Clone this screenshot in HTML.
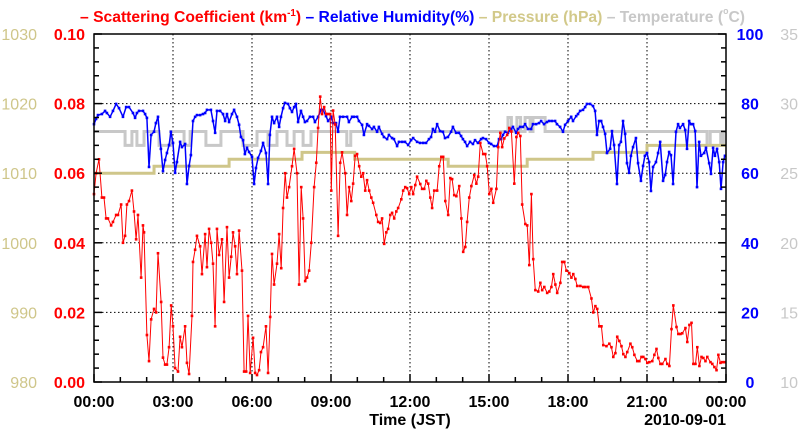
<!DOCTYPE html>
<html><head><meta charset="utf-8"><style>
html,body{margin:0;padding:0;background:#fff;}
svg{display:block;font-family:"Liberation Sans",Arial,sans-serif;}
</style></head><body>
<svg id="chart" width="800" height="434" viewBox="0 0 800 434" xmlns="http://www.w3.org/2000/svg">
<text x="80" y="22" font-size="16" font-weight="bold" textLength="665" lengthAdjust="spacingAndGlyphs"><tspan fill="#ff0000">– Scattering Coefficient (km</tspan><tspan fill="#ff0000" font-size="10" dy="-6">-1</tspan><tspan fill="#ff0000" dy="6">)</tspan><tspan fill="#0000ff"> – Relative Humidity(%)</tspan><tspan fill="#d2c98a"> – Pressure (hPa)</tspan><tspan fill="#c8c8c8"> – Temperature (</tspan><tspan fill="#c8c8c8" font-size="9" dy="-8">o</tspan><tspan fill="#c8c8c8" dy="8">C)</tspan></text>
<g id="grid"></g><g id="series"></g><g id="axes"></g>
</svg>
<script>
// Scattering coefficient (km^-1): time in hours, values
const scatT=[0,0.08,0.19,0.30,0.38,0.46,0.53,0.65,0.72,0.84,0.91,1.03,1.10,1.18,1.25,1.33,1.44,1.52,1.60,1.67,1.79,1.86,1.90,2.01,2.09,2.17,2.28,2.36,2.43,2.55,2.62,2.70,2.77,2.85,2.93,3.00,3.08,3.19,3.27,3.34,3.46,3.53,3.61,3.72,3.76,3.84,3.91,4.03,4.10,4.22,4.29,4.37,4.45,4.52,4.60,4.67,4.75,4.86,4.94,5.05,5.13,5.21,5.28,5.36,5.43,5.51,5.62,5.70,5.78,5.85,5.93,6.04,6.12,6.19,6.27,6.34,6.42,6.53,6.61,6.69,6.76,6.84,6.95,7.03,7.11,7.18,7.26,7.33,7.41,7.52,7.60,7.71,7.79,7.87,7.94,8.02,8.09,8.17,8.25,8.36,8.44,8.51,8.59,8.66,8.74,8.82,8.89,8.97,9.01,9.08,9.16,9.27,9.35,9.42,9.54,9.61,9.69,9.77,9.84,9.92,9.99,10.07,10.15,10.22,10.30,10.37,10.45,10.53,10.60,10.72,10.79,10.87,10.94,11.02,11.10,11.17,11.25,11.32,11.40,11.48,11.55,11.67,11.74,11.82,11.89,11.97,12.05,12.12,12.20,12.27,12.39,12.46,12.54,12.62,12.69,12.77,12.84,12.92,13.03,13.11,13.19,13.26,13.34,13.45,13.53,13.60,13.68,13.76,13.87,13.95,14.02,14.10,14.17,14.25,14.33,14.44,14.52,14.59,14.67,14.78,14.86,14.93,15.01,15.09,15.16,15.28,15.35,15.43,15.50,15.58,15.69,15.77,15.85,15.96,16.04,16.11,16.19,16.26,16.38,16.45,16.53,16.61,16.68,16.76,16.87,16.95,17.02,17.10,17.21,17.29,17.37,17.44,17.52,17.59,17.71,17.78,17.86,17.94,18.05,18.13,18.20,18.28,18.35,18.47,18.58,18.66,18.77,18.89,18.96,19.04,19.11,19.19,19.27,19.34,19.46,19.57,19.65,19.72,19.80,19.87,19.95,20.03,20.10,20.18,20.25,20.37,20.44,20.52,20.63,20.71,20.79,20.86,20.94,21.01,21.09,21.20,21.28,21.36,21.43,21.51,21.58,21.70,21.77,21.85,21.93,22.00,22.12,22.19,22.27,22.34,22.46,22.53,22.61,22.69,22.76,22.84,22.91,22.99,23.07,23.14,23.22,23.29,23.41,23.48,23.56,23.64,23.71,23.79,23.86,23.94];
const scatV=[.054,.060,.064,.053,.053,.047,.047,.045,.046,.048,.048,.051,.040,.042,.051,.052,.055,.049,.041,.048,.030,.045,.043,.0135,.006,.018,.021,.020,.037,.023,.007,.005,.005,.010,.022,.016,.004,.003,.013,.010,.016,.0055,.0023,.019,.0345,.038,.042,.039,.031,.0425,.033,.044,.040,.034,.016,.044,.0365,.041,.023,.0445,.030,.036,.043,.039,.031,.0435,.032,.003,.003,.019,.0026,.0127,.0026,.002,.0034,.0086,.010,.016,.0026,.0187,.0368,.028,.034,.0425,.0327,.050,.060,.053,.056,.062,.067,.060,.028,.056,.047,.029,.030,.032,.040,.056,.063,.073,.082,.077,.079,.077,.077,.077,.055,.078,.074,.042,.063,.066,.060,.048,.056,.052,.057,.065,.0655,.062,.059,.060,.055,.058,.055,.053,.0515,.048,.046,.0457,.047,.0397,.043,.044,.048,.0486,.047,.049,.050,.0525,.055,.056,.0557,.054,.056,.054,.0566,.059,.0569,.0555,.0555,.0578,.057,.053,.050,.055,.055,.062,.0647,.0647,.052,.048,.0586,.0583,.0537,.0534,.0563,.047,.0374,.0388,.046,.053,.0563,.0595,.057,.059,.0687,.0655,.0655,.062,.054,.0555,.0515,.0555,.0675,.0716,.0675,.070,.071,.073,.072,.057,.0704,.0716,.0707,.051,.0454,.045,.0336,.054,.0353,.0264,.026,.0285,.0264,.0273,.0256,.026,.0273,.031,.028,.0256,.0285,.0345,.0345,.032,.0313,.030,.031,.0296,.0276,.0276,.0273,.0273,.0273,.024,.020,.0218,.021,.016,.016,.0106,.0103,.011,.010,.0072,.0083,.013,.0118,.0103,.008,.0072,.0086,.011,.010,.0078,.006,.006,.0072,.0072,.0066,.0055,.0057,.006,.0078,.0095,.0069,.0052,.0052,.0066,.0052,.0046,.0152,.022,.0158,.0138,.0138,.014,.0155,.0115,.0164,.017,.0052,.0052,.010,.0046,.0072,.0069,.006,.0072,.0057,.0052,.0043,.0034,.0078,.0055,.0057,.0057];
// Relative humidity (%)
const rhT=[0,.08,.15,.30,.42,.49,.61,.72,.84,.95,1.10,1.22,1.33,1.48,1.56,1.63,1.71,1.86,1.94,2.01,2.09,2.17,2.28,2.35,2.43,2.54,2.62,2.70,2.77,2.85,2.92,3.00,3.08,3.15,3.27,3.34,3.46,3.53,3.61,3.68,3.76,3.84,3.91,4.03,4.14,4.22,4.29,4.44,4.52,4.60,4.67,4.79,4.90,4.98,5.05,5.13,5.24,5.32,5.43,5.51,5.58,5.66,5.73,5.81,5.89,6.00,6.08,6.15,6.23,6.34,6.42,6.53,6.61,6.68,6.76,6.84,6.95,7.03,7.10,7.18,7.25,7.37,7.44,7.52,7.60,7.67,7.75,7.86,7.94,8.01,8.09,8.20,8.32,8.39,8.51,8.62,8.70,8.81,8.89,9.00,9.08,9.19,9.27,9.34,9.46,9.61,9.68,9.80,9.87,9.99,10.06,10.18,10.25,10.37,10.44,10.56,10.63,10.75,10.82,10.94,11.01,11.13,11.20,11.32,11.39,11.51,11.58,11.70,11.81,11.93,12.04,12.12,12.27,12.38,12.50,12.61,12.72,12.80,12.87,12.95,13.03,13.14,13.25,13.33,13.44,13.56,13.63,13.75,13.86,13.94,14.01,14.09,14.17,14.28,14.39,14.47,14.58,14.70,14.77,14.89,15.00,15.08,15.19,15.31,15.38,15.46,15.53,15.61,15.72,15.84,15.91,16.03,16.10,16.18,16.29,16.37,16.48,16.60,16.67,16.79,16.90,16.98,17.09,17.20,17.28,17.39,17.51,17.58,17.70,17.81,17.89,18.00,18.12,18.19,18.31,18.38,18.46,18.57,18.65,18.72,18.84,18.95,19.03,19.10,19.18,19.26,19.33,19.41,19.48,19.60,19.67,19.75,19.86,19.94,20.01,20.09,20.17,20.24,20.32,20.39,20.47,20.58,20.66,20.77,20.85,20.92,21.00,21.08,21.15,21.23,21.34,21.42,21.50,21.61,21.69,21.76,21.84,21.91,21.99,22.10,22.18,22.25,22.37,22.45,22.52,22.60,22.67,22.75,22.83,22.90,22.98,23.05,23.17,23.24,23.36,23.43,23.51,23.58,23.66,23.74,23.81,23.89,23.96];
const rhV=[74.1,75.6,76.7,77,77.9,77.3,76.2,77.9,79.9,78.7,76.2,79,79,77.3,75.9,77.3,77.9,77.9,77,75.9,61.8,71,71.9,74.4,76.2,67,60.6,63.8,65.8,68.1,71.9,68.7,60.1,63.2,69,67.5,68.4,56.9,62.1,65.2,75,76.2,76.7,76.7,77,77.3,78.2,78.2,75,71.6,77.9,77.9,77,75,77,74.7,77,78.2,76.2,73.9,70.4,69.5,65.5,67.3,66.1,64.7,56.9,61.5,64.4,66.4,68.7,65.8,56.9,71,76.2,74.4,76.2,73.3,76.2,78.7,80.2,79.9,78.7,77.6,79,79.9,74.7,77.9,76.2,74.7,75,76.2,76.2,74.7,76.2,78.2,78.2,76.4,75,76.2,74.4,74.4,71.9,76.2,76.2,76.2,74.7,76.2,76.2,76.2,75,73.9,71,74.1,73.6,72.7,73.3,71.9,73.3,71.3,70.4,69.8,71,70.1,69.8,67.8,69,69,69,68.1,69.5,70.1,69,68.7,68.7,68.7,69.8,70.4,72.7,71.9,74.1,72.1,71.9,70.1,70.4,71.9,73.3,71.6,71.6,70.7,69.8,69,67.8,69,68.4,69.5,68.7,69.8,70.1,69.8,68.7,68.4,67.8,67.8,69.8,69.8,71,71.9,71.6,72.7,73.3,71.6,72.7,73.3,73.3,74.1,72.7,72.7,74.1,74.1,74.4,75,74.1,74.7,75,75,75,74.1,73.3,71.9,73.9,75,76.2,75,76.4,77,77.9,78.2,79,79.9,79.9,79.3,77.9,71,75,75,73.3,71.3,65.8,67,72.1,68.1,56.9,68.1,69,75,71.3,62.9,60.1,65,67.5,70.1,62.9,57.8,62.1,65,65.8,63.2,54.9,61.8,63.2,65.8,69,57.8,59.5,63.2,66.1,65.2,56.9,71.9,74.1,73,74.1,72.4,67,75,74.1,74.1,72.1,56,69,65,65.8,67.3,62.9,59.8,67.3,65,67,63.2,55.5,63.2,65,65.8,65.8];
// Pressure (hPa) step series
const presT=[0,2.28,5.13,7.9,9.9,13.45,16.45,18.95,21.0,24];
const presV=[1010,1011,1012,1013,1012,1011,1012,1013,1014,1014];
// Temperature (C) step series
const tempT=[0,1.18,1.44,1.63,1.90,2.47,2.92,3.42,3.65,4.25,4.82,5.66,6.19,6.61,6.95,7.33,7.60,7.94,8.24,9.6,9.75,15.72,15.85,16.06,16.2,16.37,16.56,16.67,17.13,23.28,23.4,23.8,23.9,24];
const tempV=[28,27,28,27,28,27,28,27,28,27,28,27,28,27,28,27,28,27,28,27,28,29,28,29,28,29,28,29,28,27,28,27,28,28];
const scatTicks=["0.00","0.02","0.04","0.06","0.08","0.10"];
const rhTicks=["0","20","40","60","80","100"];
const presTicks=["980","990","1000","1010","1020","1030"];
const tempTicks=["10","15","20","25","30","35"];
const timeTicks=["00:00","03:00","06:00","09:00","12:00","15:00","18:00","21:00","00:00"];

const L=94,R=726,T=34,B=382;
const NS="http://www.w3.org/2000/svg";
const X=h=>L+(R-L)*h/24;
const Ys=v=>B-(B-T)*v/0.10;
const Yh=v=>B-(B-T)*v/100;
const Yp=v=>B-(B-T)*(v-980)/50;
const Yt=v=>B-(B-T)*(v-10)/25;
function mk(tag,attrs,parent){const e=document.createElementNS(NS,tag);for(const k in attrs)e.setAttribute(k,attrs[k]);parent.appendChild(e);return e;}
const grid=document.getElementById('grid'),ser=document.getElementById('series'),ax=document.getElementById('axes');
// grid
for(let i=1;i<8;i++){const g=mk('line',{x1:X(i*3),x2:X(i*3),y1:T,y2:B,stroke:'#000','stroke-width':1,'stroke-dasharray':'1.5,2.5'},grid);

}
for(let i=1;i<5;i++){const g=mk('line',{x1:L,x2:R,y1:Ys(i*0.02),y2:Ys(i*0.02),stroke:'#000','stroke-width':1,'stroke-dasharray':'1.5,2.5'},grid);

}
function stepPath(ts,vs,yf){let d='M'+X(ts[0])+','+yf(vs[0]);for(let i=1;i<ts.length;i++){d+=' L'+X(ts[i])+','+yf(vs[i-1])+' L'+X(ts[i])+','+yf(vs[i]);}return d;}
const tp=mk('path',{d:stepPath(tempT,tempV,Yt),fill:'none',stroke:'#c8c8c8','stroke-width':3},ser);


const pp=mk('path',{d:stepPath(presT,presV,Yp),fill:'none',stroke:'#cfc68a','stroke-width':3},ser);


function line(ts,vs,yf,col,w,name){let d='';for(let i=0;i<ts.length;i++)d+=(i?' L':'M')+X(ts[i]).toFixed(1)+','+yf(vs[i]).toFixed(1);
const p=mk('path',{d:d,fill:'none',stroke:col,'stroke-width':w,'stroke-linejoin':'round'},ser);


const g=mk('g',{fill:col},ser);


for(let i=0;i<ts.length;i++){const c=mk('rect',{x:X(ts[i])-1.3,y:yf(vs[i])-1.3,width:2.6,height:2.6},g);

}}
line(rhT,rhV,Yh,'#0000ff',1.5,'humidity');
line(scatT,scatV,Ys,'#ff0000',1,'scattering');
// frame
const fr=mk('rect',{x:L,y:T,width:R-L,height:B-T,fill:'none',stroke:'#000','stroke-width':1.5},ax);


// ticks
for(let i=0;i<=25;i++){const y=B-(B-T)*i/25;const len=i%5==0?8:5;
mk('line',{x1:L,x2:L+len,y1:y,y2:y,stroke:'#000','stroke-width':1.5},ax);
mk('line',{x1:R,x2:R-len,y1:y,y2:y,stroke:'#000','stroke-width':1.5},ax);}
for(let i=0;i<=24;i++){const x=X(i);const len=i%3==0?8:5;mk('line',{x1:x,x2:x,y1:B,y2:B-len,stroke:'#000','stroke-width':1.5},ax);}
function lbl(txt,x,y,col,anchor,bold,name){const t=mk('text',{x:x,y:y,fill:col,'font-size':16,'text-anchor':anchor,'font-weight':bold?'bold':'normal'},ax);t.textContent=txt;

}
for(let i=0;i<6;i++){const y=B-(B-T)*i/5+6;
lbl(scatTicks[i],85,y,'#ff0000','end',true,'scattering-tick-label');
lbl(presTicks[i],37,y,'#cfc68a','end',false,'pressure-tick-label');
lbl(rhTicks[i],750,y,'#0000ff','middle',true,'humidity-tick-label');
lbl(tempTicks[i],798,y,'#c8c8c8','end',false,'temperature-tick-label');}
for(let i=0;i<timeTicks.length;i++)lbl(timeTicks[i],X(i*3),407,'#000','middle',true,'time-tick-label');
lbl('Time (JST)',410,425,'#000','middle',true,'x-axis-title');
lbl('2010-09-01',726,425,'#000','end',true,'date-label');
</script>
</body></html>
